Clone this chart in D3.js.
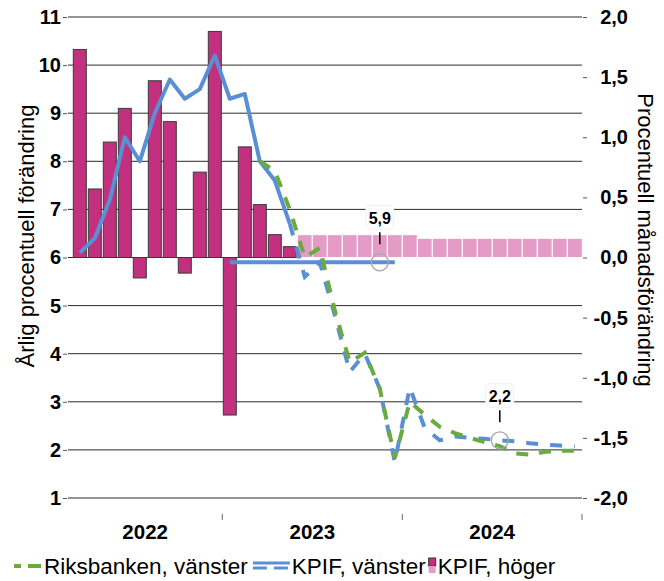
<!DOCTYPE html>
<html>
<head>
<meta charset="utf-8">
<script src="https://cdn.jsdelivr.net/npm/d3@7"></script>
<style>
  body { margin: 0; background: #fff; }
  svg text { font-family: "Liberation Sans", Arial, sans-serif; fill: #000; }
</style>
</head>
<body>
<svg id="chart" width="664" height="581"></svg>
<script>
// KPIF monthly change (right axis), outcome
const outcomeMonths = ["2022-03","2022-04","2022-05","2022-06","2022-07","2022-08","2022-09","2022-10","2022-11","2022-12","2023-01","2023-02","2023-03","2023-04","2023-05"];
const kpifMonthly = [1.73, 0.57, 0.96, 1.24, -0.17, 1.47, 1.13, -0.13, 0.71, 1.88, -1.31, 0.92, 0.44, 0.19, 0.09];

// KPIF monthly change (right axis), forecast
const forecastMonths = ["2023-06","2023-07","2023-08","2023-09","2023-10","2023-11","2023-12","2024-01","2024-02","2024-03","2024-04","2024-05","2024-06","2024-07","2024-08","2024-09","2024-10","2024-11","2024-12"];
const kpifMonthlyForecast = [0.19, 0.19, 0.19, 0.19, 0.19, 0.19, 0.19, 0.19, 0.16, 0.16, 0.16, 0.16, 0.16, 0.16, 0.16, 0.16, 0.16, 0.16, 0.16];

// KPIF annual change (left axis), outcome
const kpifAnnual = [6.1, 6.4, 7.2, 8.5, 8.0, 9.0, 9.7, 9.3, 9.5, 10.2, 9.3, 9.4, 8.0, 7.6, 6.7];

// KPIF annual change (left axis), forecast
const kpifForecastMonths = ["2023-05","2023-06","2023-07","2023-08","2023-09","2023-10","2023-11","2023-12","2024-01","2024-02","2024-03","2024-04","2024-05","2024-06","2024-07","2024-08","2024-09","2024-10","2024-11","2024-12"];
const kpifAnnualForecast = [6.7, 5.6, 5.9, 4.8, 3.62, 4.0, 3.27, 1.75, 3.3, 2.45, 2.2, 2.28, 2.25, 2.23, 2.2, 2.18, 2.14, 2.11, 2.09, 2.07];

// Riksbanken forecast (left axis)
const riksbankMonths = ["2023-03","2023-04","2023-05","2023-06","2023-07","2023-08","2023-09","2023-10","2023-11","2023-12","2024-01","2024-02","2024-03","2024-04","2024-05","2024-06","2024-07","2024-08","2024-09","2024-10","2024-11","2024-12"];
const riksbankForecast = [8.0, 7.8, 7.0, 6.0, 6.2, 4.9, 3.82, 4.02, 3.27, 1.83, 3.0, 2.73, 2.48, 2.35, 2.25, 2.16, 2.08, 1.93, 1.9, 1.96, 1.98, 1.98];

// Annual averages of the KPIF forecast path
const avgYears = ["2023", "2024"];
const avgValues = [5.9, 2.2];
const avgMarkerMonths = ["2023-11", "2024-07"];

const years = ["2022", "2023", "2024"];
const leftTicks = [1, 2, 3, 4, 5, 6, 7, 8, 9, 10, 11];
const rightTicks = [-2, -1.5, -1, -0.5, 0, 0.5, 1, 1.5, 2];

const legendLabels = ["Riksbanken, vänster", "KPIF, vänster", "KPIF, höger"];

// ---- layout ----
const plot = { left: 68, right: 582, top: 17, bottom: 498 };
const colors = { green: "#6aab3f", blue: "#5b8fd3", bar: "#c2307f", barLight: "#e49cc6", grid: "#2a2a2a" };

const svg = d3.select("#chart");
const fmt = d3.timeFormat("%Y-%m");
const allMonths = d3.timeMonths(new Date(2022, 2, 1), new Date(2025, 0, 1)).map(fmt);

const x = d3.scaleBand().domain(allMonths)
  .range([plot.left + 4.3, plot.right + 0.3])
  .paddingInner(2 / 15).paddingOuter(1 / 15);
const step = x.step();
const cx = m => x(m) + x.bandwidth() / 2;

const yL = d3.scaleLinear().domain([1, 11]).range([plot.bottom, plot.top]);
const yR = d3.scaleLinear().domain([-2, 2]).range([plot.bottom, plot.top]);

const commaFmt = v => d3.format(".1f")(v).replace(".", ",").replace("−", "-");

// gridlines on the left scale
svg.append("g").selectAll("line").data(leftTicks).join("line")
  .attr("x1", plot.left).attr("x2", plot.right)
  .attr("y1", d => yL(d)).attr("y2", d => yL(d))
  .attr("stroke", colors.grid).attr("stroke-width", 1);

// left axis
const leftAxis = d3.axisLeft(yL).tickValues(leftTicks).tickSize(4).tickPadding(2).tickFormat(d3.format("d"));
const gL = svg.append("g").attr("transform", `translate(${plot.left - 1},0)`).call(leftAxis);
gL.select(".domain").remove();
gL.selectAll(".tick line").attr("stroke", "#555");
gL.selectAll(".tick text").attr("font-size", 20).attr("font-weight", "bold")
  .attr("font-family", "Liberation Sans, Arial, sans-serif").attr("fill", "#000");

// right axis
const rightAxis = d3.axisRight(yR).tickValues(rightTicks).tickSize(4).tickPadding(0).tickFormat(commaFmt);
const gR = svg.append("g").attr("transform", `translate(${plot.right + 1},0)`).call(rightAxis);
gR.select(".domain").remove();
gR.selectAll(".tick line").attr("stroke", "#555");
gR.selectAll(".tick text").attr("font-size", 20).attr("font-weight", "bold")
  .attr("font-family", "Liberation Sans, Arial, sans-serif").attr("fill", "#000")
  .attr("text-anchor", "end").attr("x", 45);

// year boundary ticks and labels
const yearStart = yr => x(yr + "-01") - (step - x.bandwidth()) / 2;
const boundaries = ["2023", "2024"].map(yearStart).concat([plot.right]);
svg.append("g").selectAll("line").data(boundaries).join("line")
  .attr("x1", d => d).attr("x2", d => d).attr("y1", 514).attr("y2", 520)
  .attr("stroke", "#666").attr("stroke-width", 1);
const yearEdges = [plot.left].concat(boundaries);
svg.append("g").selectAll("text").data(years).join("text")
  .attr("x", (d, i) => (yearEdges[i] + yearEdges[i + 1]) / 2)
  .attr("y", 539).attr("text-anchor", "middle")
  .attr("font-size", 20.5).attr("font-weight", "bold").text(d => d);

// monthly change bars, outcome
svg.append("g").selectAll("rect").data(outcomeMonths).join("rect")
  .attr("x", d => x(d)).attr("width", x.bandwidth())
  .attr("y", (d, i) => yR(Math.max(0, kpifMonthly[i])))
  .attr("height", (d, i) => Math.abs(yR(kpifMonthly[i]) - yR(0)))
  .attr("fill", colors.bar).attr("stroke", "#3a3a3a").attr("stroke-width", 1);

// monthly change bars, forecast
svg.append("g").selectAll("rect").data(forecastMonths).join("rect")
  .attr("x", d => x(d) - (step - x.bandwidth()) / 2).attr("width", step)
  .attr("y", (d, i) => yR(kpifMonthlyForecast[i]))
  .attr("height", (d, i) => yR(0) - yR(kpifMonthlyForecast[i]))
  .attr("fill", colors.barLight).attr("stroke", "#fff").attr("stroke-width", 1);

// annual average line for 2023
svg.append("line")
  .attr("x1", cx("2023-01")).attr("x2", cx("2023-12"))
  .attr("y1", yL(avgValues[0])).attr("y2", yL(avgValues[0]))
  .attr("stroke", colors.blue).attr("stroke-width", 4);

const line = d3.line().x(d => cx(d[0])).y(d => yL(d[1]));

// KPIF outcome
svg.append("path").datum(d3.zip(outcomeMonths, kpifAnnual)).attr("d", line)
  .attr("fill", "none").attr("stroke", colors.blue).attr("stroke-width", 4)
  .attr("stroke-linejoin", "round");

// KPIF forecast
svg.append("path").datum(d3.zip(kpifForecastMonths, kpifAnnualForecast)).attr("d", line)
  .attr("fill", "none").attr("stroke", colors.blue).attr("stroke-width", 4)
  .attr("stroke-dasharray", "12,12");

// Riksbanken forecast
svg.append("path").datum(d3.zip(riksbankMonths, riksbankForecast)).attr("d", line)
  .attr("fill", "none").attr("stroke", colors.green).attr("stroke-width", 4)
  .attr("stroke-dasharray", "12,11");

// annual average markers with labels
avgYears.forEach((yr, i) => {
  const mx = cx(avgMarkerMonths[i]);
  const my = yL(avgValues[i]);
  const g = svg.append("g");
  g.append("rect").attr("x", mx - 14).attr("y", my - 57).attr("width", 28).attr("height", 24)
    .attr("rx", 5).attr("fill", "#fff").attr("stroke", "#f0f0f0");
  g.append("text").attr("x", mx).attr("y", my - 38).attr("text-anchor", "middle")
    .attr("font-size", 16).attr("font-weight", "bold").text(commaFmt(avgValues[i]));
  g.append("line").attr("x1", mx).attr("x2", mx).attr("y1", my - 30).attr("y2", my - 18)
    .attr("stroke", "#000").attr("stroke-width", 1.5);
  g.append("circle").attr("cx", mx).attr("cy", my).attr("r", 8.5)
    .attr("fill", "none").attr("stroke", "#a8a8a8").attr("stroke-width", 1.3);
});

// axis titles
svg.append("text").attr("transform", `translate(34,236) rotate(-90)`)
  .attr("text-anchor", "middle").attr("font-size", 22).text("Årlig procentuell förändring");
svg.append("text").attr("transform", `translate(638,240) rotate(90)`)
  .attr("text-anchor", "middle").attr("font-size", 22).text("Procentuell månadsförändring");

// legend
const lg = svg.append("g").attr("transform", "translate(0,566)");
lg.append("line").attr("x1", 14).attr("x2", 41).attr("y1", 0).attr("y2", 0)
  .attr("stroke", colors.green).attr("stroke-width", 4).attr("stroke-dasharray", "7,7,13");
const t1 = lg.append("text").attr("x", 44).attr("y", 8).attr("font-size", 22.5).text(legendLabels[0]);
let cursor = 44 + t1.node().getComputedTextLength() + 5;
lg.append("line").attr("x1", cursor).attr("x2", cursor + 37).attr("y1", -3).attr("y2", -3)
  .attr("stroke", colors.blue).attr("stroke-width", 3);
lg.append("line").attr("x1", cursor).attr("x2", cursor + 37).attr("y1", 2).attr("y2", 2)
  .attr("stroke", colors.blue).attr("stroke-width", 3).attr("stroke-dasharray", "14,7");
cursor += 39;
const t2 = lg.append("text").attr("x", cursor).attr("y", 8).attr("font-size", 22.5).text(legendLabels[1]);
cursor += t2.node().getComputedTextLength() + 3;
lg.append("rect").attr("x", cursor).attr("y", -8).attr("width", 7).attr("height", 8)
  .attr("fill", colors.bar).attr("stroke", "#333").attr("stroke-width", 1);
lg.append("rect").attr("x", cursor).attr("y", 0).attr("width", 7).attr("height", 7)
  .attr("fill", colors.barLight);
cursor += 9;
lg.append("text").attr("x", cursor).attr("y", 8).attr("font-size", 22.5).text(legendLabels[2]);
</script>
</body>
</html>
